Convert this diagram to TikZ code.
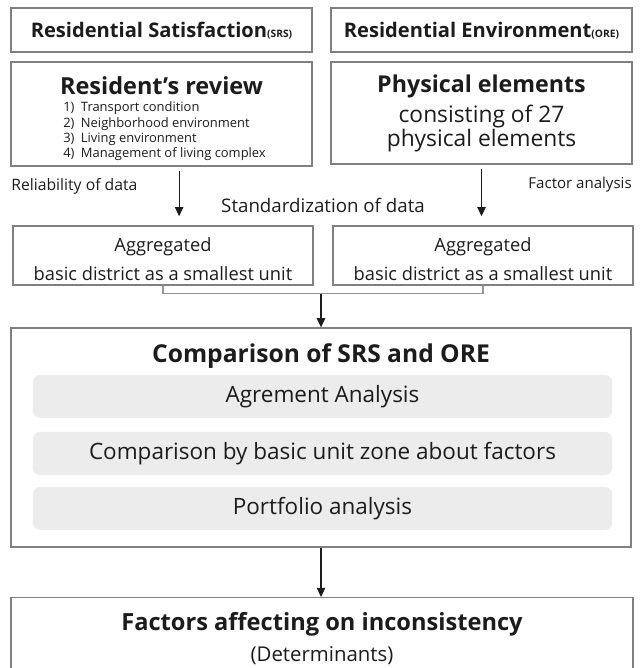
\documentclass[tikz,border=0pt]{standalone}
\usepackage{fontspec}
\setmainfont{Open Sans}
\usetikzlibrary{arrows.meta,positioning}
\definecolor{boxgray}{RGB}{128,128,128}
\definecolor{linkgray}{RGB}{150,150,150}
\definecolor{itemgray}{RGB}{236,236,236}
\definecolor{ink}{RGB}{28,28,28}
\newcommand{\fs}[2]{\fontsize{#1}{#2}\selectfont}

\begin{document}
\begin{tikzpicture}[x=0.025cm,y=-0.025cm,
  box/.style={draw=boxgray,line width=0.9pt,fill=white,inner sep=0pt,text=ink,align=center},
  item/.style={fill=itemgray,rounded corners=5pt,minimum width=14.475cm,minimum height=1.075cm,inner sep=0pt,text=ink,font=\fs{16}{19}},
  arrow/.style={draw=ink,line width=0.8pt,-{Triangle[length=6.5pt,width=6pt]}},
  note/.style={text=ink,inner sep=0pt,anchor=base}]
  \useasboundingbox (0,0) rectangle (640,668);
  \node[box,minimum width=7.525cm,minimum height=1.1cm,text depth=0pt] (srs) at (161.5,30)
    {\bfseries\fs{14.3}{17}Residential Satisfaction{\fs{7.3}{9}(SRS)}};
  \node[box,minimum width=7.525cm,minimum height=1.1cm,text depth=0pt] (ore) at (481.5,30)
    {\bfseries\fs{14.3}{17}Residential Environment{\fs{7.3}{9}(ORE)}};

  \node[box,minimum width=7.525cm,minimum height=2.6cm] (review) at (161.5,114) {};
  \node[note,font=\bfseries\fs{16.7}{20}] (reviewtitle) at (161.5,95) {Resident's review};
  \foreach \n/\crit in {1/Transport condition,2/Neighborhood environment,3/Living environment,4/Management of living complex}
    \node[note,anchor=base west,font=\fs{9.2}{11}] (crit\n) at (63,96.5+15.3*\n) {\n)\enspace\crit};

  \node[box,minimum width=7.525cm,minimum height=2.55cm] (phys) at (481.5,113) {};
  \node[note,font=\bfseries\fs{16.5}{20}] (physname) at (481.5,93) {Physical elements};
  \node[note,font=\fs{16.2}{19}] (physcount) at (481.5,123) {consisting of 27};
  \node[note,font=\fs{16.2}{19}] (physkind) at (481.5,147) {physical elements};

  \node[note,anchor=base west,font=\fs{11.2}{13}] (reliab) at (11,191) {Reliability of data};
  \node[note,anchor=base east,font=\fs{10.7}{13}] (factor) at (632,189) {Factor analysis};
  \node[note,font=\fs{13.3}{16}] (stand) at (323,212.5) {Standardization of data};

  \foreach \side/\x in {l/163,r/483} {
    \node[box,minimum width=7.5cm,minimum height=1.475cm] (agg\side) at (\x,255.5) {};
    \node[note,font=\fs{13}{16}] (agghead\side) at (\x,251) {Aggregated};
    \node[note,font=\fs{13}{16}] (aggtext\side) at (\x,280) {basic district as a smallest unit};
  }

  \node[box,minimum width=15.5cm,minimum height=5.475cm] (compare) at (321,437.5) {};
  \node[note,font=\bfseries\fs{17.5}{21}] (comptitle) at (321,362) {Comparison of SRS and ORE};
  \node[item] (agree) at (322.5,396.5) {Agrement Analysis};
  \node[item] (zone) at (322.5,453.5) {Comparison by basic unit zone about factors};
  \node[item] (portfolio) at (322.5,508.5) {Portfolio analysis};

  \node[box,anchor=north,minimum width=15.55cm,minimum height=2.3cm] (result) at (322,597) {};
  \node[note,font=\bfseries\fs{16.8}{20}] (resulttitle) at (322,630) {Factors affecting on inconsistency};
  \node[note,font=\fs{14.5}{17}] (resultnote) at (322,661.5) {(Determinants)};

  \draw[arrow,shorten <=3pt,shorten >=6.5pt] ([xshift=4.4mm]review.south) -- ([xshift=4.4mm]review.south |- aggl.north);
  \draw[arrow,shorten <=3pt,shorten >=6.5pt] (phys.south) -- (phys.south |- aggr.north);
  \draw[draw=linkgray,line width=0.9pt] (aggl.south) -- ++(0,8) coordinate (bend) -| (aggr.south);
  \coordinate (join) at (bend -| compare.north);
  \draw[arrow] (join) -- (compare.north);
  \draw[arrow] (compare.south) -- (compare.south |- result.north);
\end{tikzpicture}
\end{document}
